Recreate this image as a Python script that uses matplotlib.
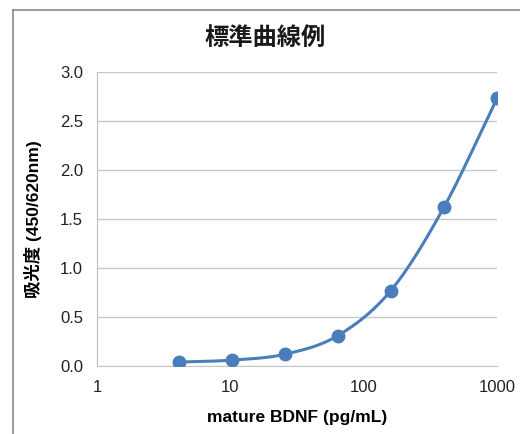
import numpy as np
import matplotlib
matplotlib.use("Agg")
import matplotlib.pyplot as plt
from matplotlib.lines import Line2D

conc = [4.096, 10.24, 25.6, 64, 160, 400, 1000]
absorb = [0.04, 0.06, 0.12, 0.31, 0.77, 1.62, 2.73]
yticks = [0.0, 0.5, 1.0, 1.5, 2.0, 2.5, 3.0]
xticks = [1, 10, 100, 1000]
title = "標準曲線例"
xlabel = "mature BDNF (pg/mL)"
ylabel = "吸光度 (450/620nm)"

blue = "#4a7ebb"
W, H = 520, 434
fig = plt.figure(figsize=(W/100, H/100), dpi=100)
ax = fig.add_axes([97/W, 1-366/H, 400/W, 294/H])

# smooth curve (Catmull-Rom in log-x space, like spreadsheet smoothing)
lx = np.log10(conc); y = np.array(absorb)
n = len(lx)
px, py = [], []
for i in range(n-1):
    p0 = (lx[i-1], y[i-1]) if i > 0 else (2*lx[0]-lx[1], 2*y[0]-y[1])
    p1 = (lx[i], y[i]); p2 = (lx[i+1], y[i+1])
    p3 = (lx[i+2], y[i+2]) if i+2 < n else (2*lx[-1]-lx[-2], 2*y[-1]-y[-2])
    t = np.linspace(0, 1, 30)
    for a, b, c, d, out in [(p0[0], p1[0], p2[0], p3[0], px), (p0[1], p1[1], p2[1], p3[1], py)]:
        out.extend(0.5*((2*b) + (-a+c)*t + (2*a-5*b+4*c-d)*t**2 + (-a+3*b-3*c+d)*t**3))
ax.plot(10**np.array(px), py, color=blue, lw=2.2, zorder=3)
ax.plot(conc, absorb, 'o', color=blue, ms=9, zorder=4)

ax.set_xscale('log')
ax.set_xlim(1, 1000)
ax.set_ylim(0, 3.0)
ax.set_xticks(xticks)
ax.set_xticklabels([str(v) for v in xticks])
ax.set_yticks(yticks)
ax.set_yticklabels([f"{v:.1f}" for v in yticks])
ax.xaxis.set_minor_locator(matplotlib.ticker.NullLocator())
ax.tick_params(length=0, labelsize=12, colors="#222222", pad=10)
for lbl in ax.get_xticklabels() + ax.get_yticklabels():
    lbl.set_family(["Liberation Sans", "DejaVu Sans"])
ax.grid(axis='y', color="#c8c8c8", lw=1)
ax.set_axisbelow(True)
for s in ['top', 'right']:
    ax.spines[s].set_visible(False)
ax.spines['left'].set_color("#bdbdbd")
ax.spines['bottom'].set_color("#c8c8c8")

ax.set_xlabel(xlabel, fontsize=12.5, fontweight='bold', family=["Liberation Sans", "DejaVu Sans"], labelpad=11)
ax.set_ylabel(ylabel, fontsize=12.5, fontweight='bold', family=["Liberation Sans", "Noto Sans CJK JP"], labelpad=13)
fig.text(265/W, 1-38/H, title, fontsize=17.5, family=["Noto Sans CJK JP"], fontweight='bold', ha='center', va='center', color="#1a1a1a")

fig.add_artist(Line2D([13/W, 13/W], [0, 1-10/H], color="#8a8a8a", lw=1.2, transform=fig.transFigure))
fig.add_artist(Line2D([13/W, 1], [1-10/H, 1-10/H], color="#8a8a8a", lw=1.2, transform=fig.transFigure))

fig.savefig("out.png", dpi=100)
